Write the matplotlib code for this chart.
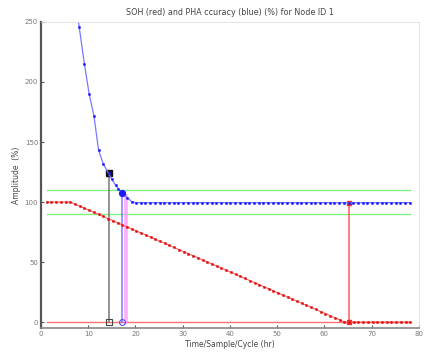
import matplotlib
matplotlib.use("Agg")
import matplotlib.pyplot as plt

# ---- data ----
red_x = [1.2, 2.2, 3.2, 4.2, 5.2, 6.2, 7.2, 8.2, 9.2, 10.2, 11.2, 12.2, 13.2, 14.2, 15.2,
         16.2, 17.2, 18.2, 19.2, 20.2, 21.2, 22.2, 23.2, 24.2, 25.2, 26.2, 27.2, 28.2, 29.2,
         30.2, 31.2, 32.2, 33.2, 34.2, 35.2, 36.2, 37.2, 38.2, 39.2, 40.2, 41.2, 42.2, 43.2,
         44.2, 45.2, 46.2, 47.2, 48.2, 49.2, 50.2, 51.2, 52.2, 53.2, 54.2, 55.2, 56.2, 57.2,
         58.2, 59.2, 60.2, 61.2, 62.2, 63.2, 64.2, 65.2, 66.2, 67.2, 68.2, 69.2, 70.2, 71.2,
         72.2, 73.2, 74.2, 75.2, 76.2, 77.2, 78.2]
red_soh = [100, 100, 100, 100, 100, 100, 98.3, 96.6, 94.8, 93.1, 91.4, 89.7, 88.0, 86.2, 84.5,
           82.8, 81.1, 79.4, 77.6, 75.9, 74.2, 72.5, 70.8, 69.0, 67.3, 65.6, 63.9, 62.2, 60.4,
           58.7, 57.0, 55.3, 53.6, 51.8, 50.1, 48.4, 46.7, 45.0, 43.2, 41.5, 39.8, 38.1, 36.4,
           34.6, 32.9, 31.2, 29.5, 27.8, 26.0, 24.3, 22.6, 20.9, 19.2, 17.4, 15.7, 14.0, 12.3,
           10.6, 8.8, 7.1, 5.4, 3.7, 2.0, 0.2, 0, 0, 0, 0, 0, 0, 0,
           0, 0, 0, 0, 0, 0, 0]

blue_x = [7.1, 8.1, 9.2, 10.2, 11.2, 12.2, 13.2, 14.3, 15.0, 15.8, 16.4, 17.2, 18.3, 19.2,
          20.1, 21.1, 22.1, 23.1, 24.1, 25.1, 26.1, 27.1, 28.1, 29.1, 30.1, 31.1, 32.1, 33.1,
          34.1, 35.1, 36.1, 37.1, 38.1, 39.1, 40.1, 41.1, 42.1, 43.1, 44.1, 45.1, 46.1, 47.1,
          48.1, 49.1, 50.1, 51.1, 52.1, 53.1, 54.1, 55.1, 56.1, 57.1, 58.1, 59.1, 60.1, 61.1,
          62.1, 63.1, 64.1, 65.1, 66.1, 67.1, 68.1, 69.1, 70.1, 71.1, 72.1, 73.1, 74.1, 75.1,
          76.1, 77.1, 78.2]
blue_acc = [275, 245.5, 214.7, 190, 172, 143, 131.7, 124, 119, 114, 111, 107.7, 103.6, 100.3,
            99.5, 99.5, 99.5, 99.5, 99.5, 99.5, 99.5, 99.5, 99.5, 99.5, 99.5, 99.5, 99.5, 99.5,
            99.5, 99.5, 99.5, 99.5, 99.5, 99.5, 99.5, 99.5, 99.5, 99.5, 99.5, 99.5, 99.5, 99.5,
            99.5, 99.5, 99.5, 99.5, 99.5, 99.5, 99.5, 99.5, 99.5, 99.5, 99.5, 99.5, 99.5, 99.5,
            99.5, 99.5, 99.5, 99.5, 99.5, 99.5, 99.5, 99.5, 99.5, 99.5, 99.5, 99.5, 99.5, 99.5,
            99.5, 99.5, 99.5]

bound_x = [1.2, 78.2]
upper_bound = [110, 110]
lower_bound = [90, 90]
zero_line = [0, 0]

black_x, black_top = 14.3, 124
blue_event_x, blue_top = 17.2, 107.7
pink_x, pink_top = 18.0, 105
red_event_x, red_top = 65.2, 99.5

title = "SOH (red) and PHA ccuracy (blue) (%) for Node ID 1"
xlabel = "Time/Sample/Cycle (hr)"
ylabel = "Amplitude  (%)"
xticks = [0, 10, 20, 30, 40, 50, 60, 70, 80]
yticks = [0, 50, 100, 150, 200, 250]

# ---- figure ----
fig = plt.figure(figsize=(4.27, 3.54), dpi=100)
ax = fig.add_axes([0.096, 0.073, 0.885, 0.865])

# bounds
ax.plot(bound_x, upper_bound, color="#80f080", lw=1.0)
ax.plot(bound_x, lower_bound, color="#80f080", lw=1.0)
ax.plot(bound_x, zero_line, color="#ff7070", lw=1.0)

# event verticals
ax.plot([black_x, black_x], [0, black_top], color="#666666", lw=1.3, alpha=0.75)
ax.plot([black_x], [black_top], marker="s", ms=3.8, color="#111111", ls="none")
ax.plot([black_x], [0], marker="s", ms=3.8, mfc="none", mec="#444444", mew=0.8, ls="none")

ax.plot([pink_x, pink_x], [0, pink_top], color="#ff90ff", lw=2.6, alpha=0.75)

ax.plot([blue_event_x, blue_event_x], [0, blue_top], color="#6060ff", lw=1.4, alpha=0.65)

ax.plot([red_event_x, red_event_x], [0, red_top], color="#ff5050", lw=1.3, alpha=0.8)
ax.plot([red_event_x], [red_top], marker="s", ms=2.6, color="#e83030", ls="none")
ax.plot([red_event_x], [0], marker="s", ms=2.6, color="#e83030", ls="none")

# series
ax.plot(red_x, red_soh, color="#ff6060", lw=0.8, marker="o", ms=1.7,
        mfc="#e01010", mec="#e01010", mew=0.3)
ax.plot(blue_x, blue_acc, color="#7878ff", lw=0.9, marker="o", ms=1.7,
        mfc="#1a1aff", mec="#1a1aff", mew=0.3)

ax.plot([blue_event_x], [blue_top], marker="o", ms=4.2, color="#1a1aff", ls="none")
ax.plot([blue_event_x], [0], marker="o", ms=4.2, mfc="none", mec="#5050ff", mew=0.8, ls="none")

ax.set_xlim(0, 80)
ax.set_ylim(-5, 250)
ax.set_xticks(xticks)
ax.set_yticks(yticks)
ax.tick_params(direction="in", length=2.5, width=0.8, labelsize=5,
               colors="#555555", labelcolor="#777777", pad=2)

for s in ["top", "right"]:
    ax.spines[s].set_color("#e0e0e0")
    ax.spines[s].set_linewidth(0.6)
ax.spines["left"].set_color("#555555")
ax.spines["left"].set_linewidth(1.6)
ax.spines["bottom"].set_color("#888888")
ax.spines["bottom"].set_linewidth(1.2)

ax.set_title(title, fontsize=5.8, color="#444444", pad=5)
ax.set_xlabel(xlabel, fontsize=5.5, color="#444444", labelpad=2)
ax.set_ylabel(ylabel, fontsize=5.5, color="#444444", labelpad=3)

fig.savefig("out.png", dpi=100)
